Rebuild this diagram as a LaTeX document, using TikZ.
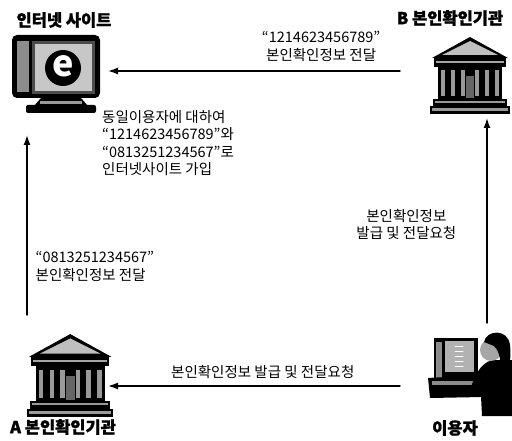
\documentclass[tikz,border=0pt]{standalone}
\usepackage{fontspec}
\setmainfont{Noto Sans CJK KR}
\newfontfamily\heavy{Noto Sans CJK KR}[BoldFeatures={FakeBold=1.2}]
\usetikzlibrary{arrows.meta}

% temple front of a bank, local box 80 x 78
\newcommand{\bankhall}{%
  \fill (2,22) -- (40,1) -- (78,22) -- cycle;
  \fill[black!25] (12,19) -- (40,5) -- (68,19) -- cycle;
  \fill (4,22) rectangle (76,31);
  \fill[black!35] (6,25) rectangle (74,27);
  \fill (8,31) rectangle (72,63);
  \foreach \cx in {13,23,33,47,57,67}
    \fill[black!40] (\cx-2,34) rectangle (\cx+2,60);
  \fill[black!60] (36,40) rectangle (44,62);
  \fill (3,63) rectangle (77,70);
  \fill[black!40] (5,65) rectangle (75,67);
  \fill (0,70) rectangle (80,78);
  \fill[black!40] (2,72) rectangle (78,75);
}

\begin{document}
\begin{tikzpicture}[x=1pt,y=-1pt,>={Latex[length=10pt,width=7pt]},line cap=round,
  lbl/.style={font=\fontsize{14.5}{17.5}\selectfont,inner sep=0pt},
  ttl/.style={font=\heavy\bfseries\fontsize{16.5}{17}\selectfont,inner sep=0pt},
  box/.style={inner sep=0pt,outer sep=0pt},
  flow/.style={->,line width=1.4pt}]
\useasboundingbox (0,0) rectangle (512,441);

\node[box,minimum width=104pt,minimum height=100pt] (site) at (56,85) {};
\node[box,minimum width=112pt,minimum height=94pt] (bankB) at (456,71) {};
\node[box,minimum width=96pt,minimum height=142pt] (bankA) at (60,386) {};
\node[box,minimum width=112pt,minimum height=126pt] (user) at (456,386) {};

% monitor of the web site
\fill[rounded corners=5pt] (12,35) rectangle (100,98);
\fill[black!45] (17,41) rectangle (29,92);
\fill[black!70] (32,41) rectangle (95,94);
\fill[black!22] (35,44) rectangle (92,91);
\fill (63,68) circle (18);
\node[text=white,font=\bfseries\fontsize{36}{36}\selectfont] (logo) at (63,66) {e};
\fill (41,98) -- (81,98) -- (88,106) -- (34,106) -- cycle;
\fill[rounded corners=2pt] (26,105) rectangle (96,113);
\fill[black!40] (40,101) rectangle (82,104);

\begin{scope}[shift={(430,36)}]
\bankhall
\end{scope}
\begin{scope}[shift={(27,333)},scale=1.08]
\bankhall
\end{scope}

% user at the computer
\fill (434,338) rectangle (478,382);
\fill[black!45] (436,342) rectangle (442,378);
\fill[black!30] (445,341) rectangle (474,372);
\foreach \ty in {346,351,...,366}
  \draw[white,line width=1pt] (455,\ty) -- (463,\ty);
\fill (428,378) -- (481,375) -- (483,397) -- (430,398) -- cycle;
\fill[black!45] (432,381) rectangle (478,385);
\fill (512,360) -- (492,360) .. controls (479,364) and (474,378) .. (470,390)
  -- (481,396) -- (482,416) -- (512,416) -- cycle;
\fill[black!35] (491,350) circle (11);
\fill (484,342) .. controls (486,330) and (508,328) .. (510,345)
  .. controls (512,360) and (508,372) .. (504,380) -- (498,374)
  .. controls (502,362) and (500,352) .. (494,346) -- cycle;

\node[ttl] (siteT) at (64,20) {인터넷 사이트};
\node[ttl] (bankBT) at (450,18) {B 본인확인기관};
\node[ttl] (bankAT) at (63,427) {A 본인확인기관};
\node[ttl] (userT) at (455,428) {이용자};

\draw[flow] (bankB.west) -- (bankB.west -| site.east)
  node[lbl,pos=0.27,above=9pt,align=center] (sendB) {“1214623456789”\\본인확인정보 전달};
\draw[flow] ([xshift=-33pt]bankA.north) -- ([xshift=-33pt]bankA.north |- site.south)
  node[lbl,pos=0.27,right=8pt,align=left] (sendA) {“0813251234567”\\본인확인정보 전달};
\draw[flow] ([xshift=31pt]bankB.south |- user.north) -- ([xshift=31pt]bankB.south)
  node[lbl,pos=0.48,left=30pt,align=center] (askB) {본인확인정보\\발급 및 전달요청};
\draw[flow] (user.west) -- (bankA.east)
  node[lbl,pos=0.47,above=7pt] (askA) {본인확인정보 발급 및 전달요청};

\node[lbl,anchor=west,align=left] (note) at (102,143)
  {동일이용자에 대하여\\“1214623456789”와\\“0813251234567”로\\인터넷사이트 가입};
\end{tikzpicture}
\end{document}
